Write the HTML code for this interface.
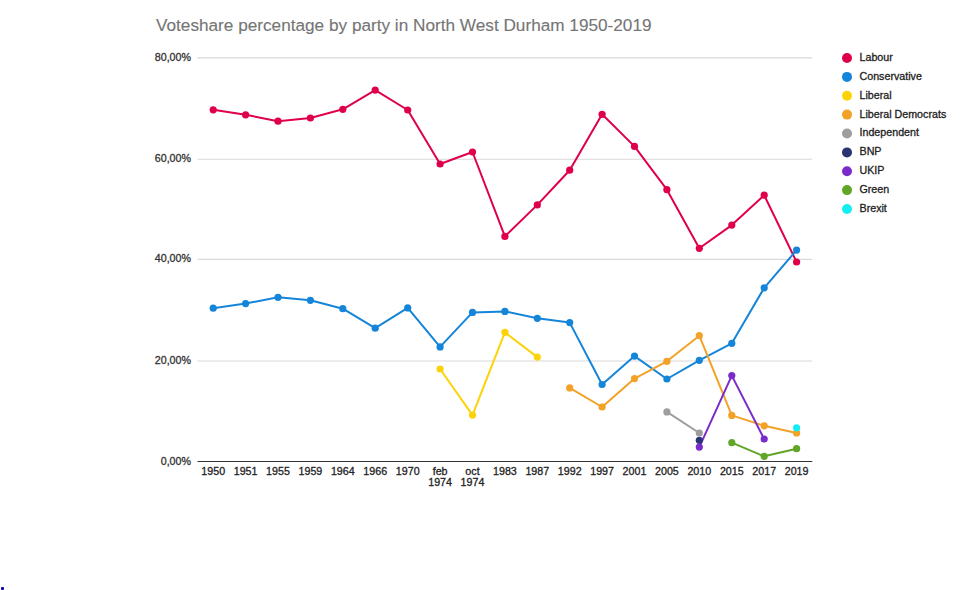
<!DOCTYPE html>
<html><head><meta charset="utf-8"><style>
html,body{margin:0;padding:0;background:#fff;width:960px;height:590px;overflow:hidden;position:relative}
svg text{font-family:"Liberation Sans",sans-serif;stroke-width:0.3px}
</style></head><body>
<svg width="960" height="590" viewBox="0 0 960 590" style="position:absolute;left:0;top:0">
<text x="156" y="31" font-size="17.2" fill="#757575" stroke="#757575" style="stroke-width:0.12px">Voteshare percentage by party in North West Durham 1950-2019</text>
<line x1="197.5" x2="812.3" y1="57.9" y2="57.9" stroke="#d9d9d9" stroke-width="1.1"/>
<text x="191" y="60.9" font-size="10.7" fill="#333" stroke="#333" text-anchor="end">80,00%</text>
<line x1="197.5" x2="812.3" y1="159.3" y2="159.3" stroke="#d9d9d9" stroke-width="1.1"/>
<text x="191" y="162.3" font-size="10.7" fill="#333" stroke="#333" text-anchor="end">60,00%</text>
<line x1="197.5" x2="812.3" y1="259.4" y2="259.4" stroke="#d9d9d9" stroke-width="1.1"/>
<text x="191" y="262.4" font-size="10.7" fill="#333" stroke="#333" text-anchor="end">40,00%</text>
<line x1="197.5" x2="812.3" y1="361.0" y2="361.0" stroke="#d9d9d9" stroke-width="1.1"/>
<text x="191" y="364.0" font-size="10.7" fill="#333" stroke="#333" text-anchor="end">20,00%</text>
<line x1="197.5" x2="812.3" y1="461.5" y2="461.5" stroke="#333" stroke-width="1.2"/>
<text x="191" y="465.0" font-size="10.7" fill="#333" stroke="#333" text-anchor="end">0,00%</text>
<text x="213.2" y="475" font-size="10.7" fill="#222" stroke="#222" text-anchor="middle">1950</text>
<text x="245.6" y="475" font-size="10.7" fill="#222" stroke="#222" text-anchor="middle">1951</text>
<text x="278.0" y="475" font-size="10.7" fill="#222" stroke="#222" text-anchor="middle">1955</text>
<text x="310.4" y="475" font-size="10.7" fill="#222" stroke="#222" text-anchor="middle">1959</text>
<text x="342.8" y="475" font-size="10.7" fill="#222" stroke="#222" text-anchor="middle">1964</text>
<text x="375.2" y="475" font-size="10.7" fill="#222" stroke="#222" text-anchor="middle">1966</text>
<text x="407.7" y="475" font-size="10.7" fill="#222" stroke="#222" text-anchor="middle">1970</text>
<text x="440.1" y="475" font-size="10.7" fill="#222" stroke="#222" text-anchor="middle">feb</text>
<text x="440.1" y="485.5" font-size="10.7" fill="#222" stroke="#222" text-anchor="middle">1974</text>
<text x="472.5" y="475" font-size="10.7" fill="#222" stroke="#222" text-anchor="middle">oct</text>
<text x="472.5" y="485.5" font-size="10.7" fill="#222" stroke="#222" text-anchor="middle">1974</text>
<text x="504.9" y="475" font-size="10.7" fill="#222" stroke="#222" text-anchor="middle">1983</text>
<text x="537.3" y="475" font-size="10.7" fill="#222" stroke="#222" text-anchor="middle">1987</text>
<text x="569.7" y="475" font-size="10.7" fill="#222" stroke="#222" text-anchor="middle">1992</text>
<text x="602.1" y="475" font-size="10.7" fill="#222" stroke="#222" text-anchor="middle">1997</text>
<text x="634.5" y="475" font-size="10.7" fill="#222" stroke="#222" text-anchor="middle">2001</text>
<text x="666.9" y="475" font-size="10.7" fill="#222" stroke="#222" text-anchor="middle">2005</text>
<text x="699.3" y="475" font-size="10.7" fill="#222" stroke="#222" text-anchor="middle">2010</text>
<text x="731.8" y="475" font-size="10.7" fill="#222" stroke="#222" text-anchor="middle">2015</text>
<text x="764.2" y="475" font-size="10.7" fill="#222" stroke="#222" text-anchor="middle">2017</text>
<text x="796.6" y="475" font-size="10.7" fill="#222" stroke="#222" text-anchor="middle">2019</text>
<polyline points="213.2,109.8 245.6,114.8 278.0,121.2 310.4,118.0 342.8,109.3 375.2,90.1 407.7,110.0 440.1,164.0 472.5,152.0 504.9,236.4 537.3,204.9 569.7,170.2 602.1,114.3 634.5,146.4 666.9,189.7 699.3,248.3 731.8,225.1 764.2,195.2 796.6,262.0" fill="none" stroke="#e0004a" stroke-width="2" stroke-linejoin="round"/>
<polyline points="213.2,308.2 245.6,303.6 278.0,297.3 310.4,300.3 342.8,308.7 375.2,328.2 407.7,307.9 440.1,346.9 472.5,312.4 504.9,311.4 537.3,318.3 569.7,322.6 602.1,384.5 634.5,356.1 666.9,379.0 699.3,360.3 731.8,343.3 764.2,287.8 796.6,250.1" fill="none" stroke="#1485d9" stroke-width="2" stroke-linejoin="round"/>
<polyline points="440.1,369.0 472.5,415.1 504.9,332.3 537.3,357.1" fill="none" stroke="#fcd308" stroke-width="2" stroke-linejoin="round"/>
<polyline points="569.7,387.9 602.1,407.0 634.5,378.6 666.9,361.3 699.3,335.7 731.8,415.4 764.2,425.8 796.6,432.9" fill="none" stroke="#f3a228" stroke-width="2" stroke-linejoin="round"/>
<polyline points="666.9,411.9 699.3,433.0" fill="none" stroke="#9e9e9e" stroke-width="2" stroke-linejoin="round"/>
<polyline points="699.3,447.1 731.8,375.6 764.2,439.0" fill="none" stroke="#7a2ccb" stroke-width="2" stroke-linejoin="round"/>
<polyline points="731.8,442.7 764.2,456.3 796.6,448.7" fill="none" stroke="#62a628" stroke-width="2" stroke-linejoin="round"/>
<circle cx="213.2" cy="109.8" r="3.6" fill="#e0004a"/>
<circle cx="245.6" cy="114.8" r="3.6" fill="#e0004a"/>
<circle cx="278.0" cy="121.2" r="3.6" fill="#e0004a"/>
<circle cx="310.4" cy="118.0" r="3.6" fill="#e0004a"/>
<circle cx="342.8" cy="109.3" r="3.6" fill="#e0004a"/>
<circle cx="375.2" cy="90.1" r="3.6" fill="#e0004a"/>
<circle cx="407.7" cy="110.0" r="3.6" fill="#e0004a"/>
<circle cx="440.1" cy="164.0" r="3.6" fill="#e0004a"/>
<circle cx="472.5" cy="152.0" r="3.6" fill="#e0004a"/>
<circle cx="504.9" cy="236.4" r="3.6" fill="#e0004a"/>
<circle cx="537.3" cy="204.9" r="3.6" fill="#e0004a"/>
<circle cx="569.7" cy="170.2" r="3.6" fill="#e0004a"/>
<circle cx="602.1" cy="114.3" r="3.6" fill="#e0004a"/>
<circle cx="634.5" cy="146.4" r="3.6" fill="#e0004a"/>
<circle cx="666.9" cy="189.7" r="3.6" fill="#e0004a"/>
<circle cx="699.3" cy="248.3" r="3.6" fill="#e0004a"/>
<circle cx="731.8" cy="225.1" r="3.6" fill="#e0004a"/>
<circle cx="764.2" cy="195.2" r="3.6" fill="#e0004a"/>
<circle cx="796.6" cy="262.0" r="3.6" fill="#e0004a"/>
<circle cx="213.2" cy="308.2" r="3.6" fill="#1485d9"/>
<circle cx="245.6" cy="303.6" r="3.6" fill="#1485d9"/>
<circle cx="278.0" cy="297.3" r="3.6" fill="#1485d9"/>
<circle cx="310.4" cy="300.3" r="3.6" fill="#1485d9"/>
<circle cx="342.8" cy="308.7" r="3.6" fill="#1485d9"/>
<circle cx="375.2" cy="328.2" r="3.6" fill="#1485d9"/>
<circle cx="407.7" cy="307.9" r="3.6" fill="#1485d9"/>
<circle cx="440.1" cy="346.9" r="3.6" fill="#1485d9"/>
<circle cx="472.5" cy="312.4" r="3.6" fill="#1485d9"/>
<circle cx="504.9" cy="311.4" r="3.6" fill="#1485d9"/>
<circle cx="537.3" cy="318.3" r="3.6" fill="#1485d9"/>
<circle cx="569.7" cy="322.6" r="3.6" fill="#1485d9"/>
<circle cx="602.1" cy="384.5" r="3.6" fill="#1485d9"/>
<circle cx="634.5" cy="356.1" r="3.6" fill="#1485d9"/>
<circle cx="666.9" cy="379.0" r="3.6" fill="#1485d9"/>
<circle cx="699.3" cy="360.3" r="3.6" fill="#1485d9"/>
<circle cx="731.8" cy="343.3" r="3.6" fill="#1485d9"/>
<circle cx="764.2" cy="287.8" r="3.6" fill="#1485d9"/>
<circle cx="796.6" cy="250.1" r="3.6" fill="#1485d9"/>
<circle cx="440.1" cy="369.0" r="3.6" fill="#fcd308"/>
<circle cx="472.5" cy="415.1" r="3.6" fill="#fcd308"/>
<circle cx="504.9" cy="332.3" r="3.6" fill="#fcd308"/>
<circle cx="537.3" cy="357.1" r="3.6" fill="#fcd308"/>
<circle cx="569.7" cy="387.9" r="3.6" fill="#f3a228"/>
<circle cx="602.1" cy="407.0" r="3.6" fill="#f3a228"/>
<circle cx="634.5" cy="378.6" r="3.6" fill="#f3a228"/>
<circle cx="666.9" cy="361.3" r="3.6" fill="#f3a228"/>
<circle cx="699.3" cy="335.7" r="3.6" fill="#f3a228"/>
<circle cx="731.8" cy="415.4" r="3.6" fill="#f3a228"/>
<circle cx="764.2" cy="425.8" r="3.6" fill="#f3a228"/>
<circle cx="796.6" cy="432.9" r="3.6" fill="#f3a228"/>
<circle cx="666.9" cy="411.9" r="3.6" fill="#9e9e9e"/>
<circle cx="699.3" cy="433.0" r="3.6" fill="#9e9e9e"/>
<circle cx="699.3" cy="440.3" r="3.6" fill="#2b3473"/>
<circle cx="699.3" cy="447.1" r="3.6" fill="#7a2ccb"/>
<circle cx="731.8" cy="375.6" r="3.6" fill="#7a2ccb"/>
<circle cx="764.2" cy="439.0" r="3.6" fill="#7a2ccb"/>
<circle cx="731.8" cy="442.7" r="3.6" fill="#62a628"/>
<circle cx="764.2" cy="456.3" r="3.6" fill="#62a628"/>
<circle cx="796.6" cy="448.7" r="3.6" fill="#62a628"/>
<circle cx="796.6" cy="427.8" r="3.6" fill="#14eef2"/>
<circle cx="847" cy="58.00" r="5" fill="#e0004a"/>
<text x="859.5" y="60.90" font-size="10.7" fill="#222" stroke="#222">Labour</text>
<circle cx="847" cy="76.88" r="5" fill="#1485d9"/>
<text x="859.5" y="79.78" font-size="10.7" fill="#222" stroke="#222">Conservative</text>
<circle cx="847" cy="95.75" r="5" fill="#fcd308"/>
<text x="859.5" y="98.65" font-size="10.7" fill="#222" stroke="#222">Liberal</text>
<circle cx="847" cy="114.62" r="5" fill="#f3a228"/>
<text x="859.5" y="117.53" font-size="10.7" fill="#222" stroke="#222">Liberal Democrats</text>
<circle cx="847" cy="133.50" r="5" fill="#9e9e9e"/>
<text x="859.5" y="136.40" font-size="10.7" fill="#222" stroke="#222">Independent</text>
<circle cx="847" cy="152.38" r="5" fill="#2b3473"/>
<text x="859.5" y="155.28" font-size="10.7" fill="#222" stroke="#222">BNP</text>
<circle cx="847" cy="171.25" r="5" fill="#7a2ccb"/>
<text x="859.5" y="174.15" font-size="10.7" fill="#222" stroke="#222">UKIP</text>
<circle cx="847" cy="190.12" r="5" fill="#62a628"/>
<text x="859.5" y="193.03" font-size="10.7" fill="#222" stroke="#222">Green</text>
<circle cx="847" cy="209.00" r="5" fill="#14eef2"/>
<text x="859.5" y="211.90" font-size="10.7" fill="#222" stroke="#222">Brexit</text>
<rect x="1" y="587" width="3" height="3" fill="#1400b8" rx="1"/>
</svg>
</body></html>
